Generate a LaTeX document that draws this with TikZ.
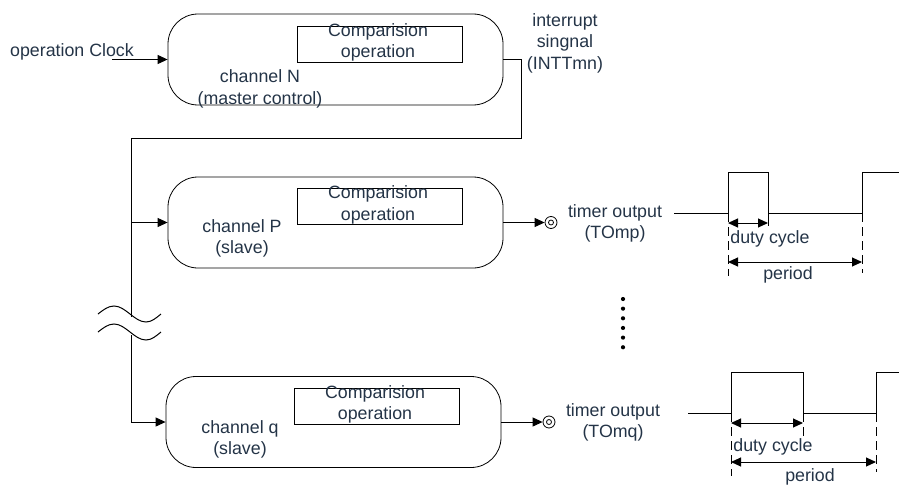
\documentclass[tikz,border=0pt]{standalone}
\usepackage{fontspec}
\setmainfont{Liberation Sans}
\usetikzlibrary{arrows.meta}
\definecolor{txtc}{RGB}{36,52,71}
\begin{document}
\begin{tikzpicture}[x=1pt,y=-1pt, line width=1pt,
  chan/.style={draw, line width=0.8pt, rounded corners=30pt, minimum width=335pt, minimum height=91pt, inner sep=0pt},
  cmp/.style={draw, line width=0.8pt, minimum width=165pt, minimum height=36pt, inner sep=0pt},
  lbl/.style={text=txtc, font=\fontsize{17.8}{21.5}\selectfont, align=center, inner sep=0pt},
  arr/.style={-{Triangle[length=10pt,width=9pt]}},
  dbl/.style={{Triangle[length=10pt,width=9pt]}-{Triangle[length=10pt,width=9pt]}},
  tap/.style={draw, line width=0.8pt, circle, minimum size=12pt, inner sep=0pt},
  tapin/.style={draw, line width=0.8pt, circle, minimum size=5pt, inner sep=0pt},
  dotn/.style={fill, circle, minimum size=4.2pt, inner sep=0pt},
  dsh/.style={dashed, dash pattern=on 9pt off 5pt}]
\useasboundingbox (0,0) rectangle (899,487);

% channel N
\node[chan] (bN) at (335.5,59.5) {};
\node[cmp] (cN) at (379.5,44) {};
\node[lbl] (tcN) at (378,42.5) {Comparision\\operation};
\node[lbl] (lN) at (260,89) {channel N\\(master control)};
\node[lbl] (lclk) at (72,52) {operation Clock};
\node[lbl] (lint) at (565,43) {interrupt\\singnal\\(INTTmn)};

% channel P
\node[chan] (bP) at (335.5,222.5) {};
\node[cmp] (cP) at (379.5,206.5) {};
\node[lbl] (tcP) at (378,205) {Comparision\\operation};
\node[lbl] (lP) at (242,238.5) {channel P\\(slave)};

% channel q
\node[chan] (bq) at (333.5,422) {};
\node[cmp] (cq) at (376.5,406) {};
\node[lbl] (tcq) at (375,404.5) {Comparision\\operation};
\node[lbl] (lq) at (240,439.5) {channel q\\(slave)};

% clock input
\coordinate (clk) at (112,59.5);
\draw[arr] (clk) -- (bN.west);

% interrupt bus
\coordinate (iA) at (521,59.5);
\coordinate (iB) at (521,138);
\coordinate (iC) at (131,138);
\coordinate (br1) at (131,317);
\coordinate (br2) at (131,335);
\coordinate (jP) at (131,222.5);
\draw (bN.east) -- (iA) -- (iB) -- (iC) -- (br1);
\draw[arr] (jP) -- (bP.west);
\draw[arr] (br2) |- (bq.west);

% break symbol
\draw (98,314) sin (114,306) cos (130,314) sin (146,322) cos (161,314);
\draw (98,332) sin (114,324) cos (130,332) sin (146,340) cos (161,332);

% outputs
\node[tap] (oP) at (551,222.5) {};
\node[tapin] (oPi) at (oP) {};
\draw[arr] (bP.east) -- (oP.west);
\node[lbl] (tP) at (615,223.5) {timer output\\(TOmp)};

\node[tap] (oq) at (549,422) {};
\node[tapin] (oqi) at (oq) {};
\draw[arr] (bq.east) -- (oq.west);
\node[lbl] (tq) at (613,422.5) {timer output\\(TOmq)};

% dots
\foreach \i in {0,...,5} {
  \node[dotn] (d\i) at (623,299+9.65*\i) {};
}

% waveform P
\draw (674,213) -- (728,213) -- (728,172) -- (768,172) -- (768,213) -- (862,213) -- (862,172) -- (899,172);
\draw[dsh] (728,213) -- (728,276);
\draw[dsh] (862,213) -- (862,273);
\draw (768,213) -- (768,226);
\draw[dbl] (728,223) -- (768,223);
\draw[dbl] (728,262) -- (862,262);
\node[lbl] (dcP) at (770,239) {duty cycle};
\node[lbl] (peP) at (788,275) {period};

% waveform q
\draw (688,413) -- (731,413) -- (731,372) -- (803,372) -- (803,413) -- (876,413) -- (876,372) -- (899,372);
\draw[dsh] (731,413) -- (731,476);
\draw[dsh] (876,413) -- (876,472);
\draw[dsh] (803,413) -- (803,439);
\draw[dbl] (731,423) -- (803,423);
\draw[dbl] (731,462) -- (876,462);
\node[lbl] (dcq) at (773,447) {duty cycle};
\node[lbl] (peq) at (810,477) {period};
\end{tikzpicture}
\end{document}
